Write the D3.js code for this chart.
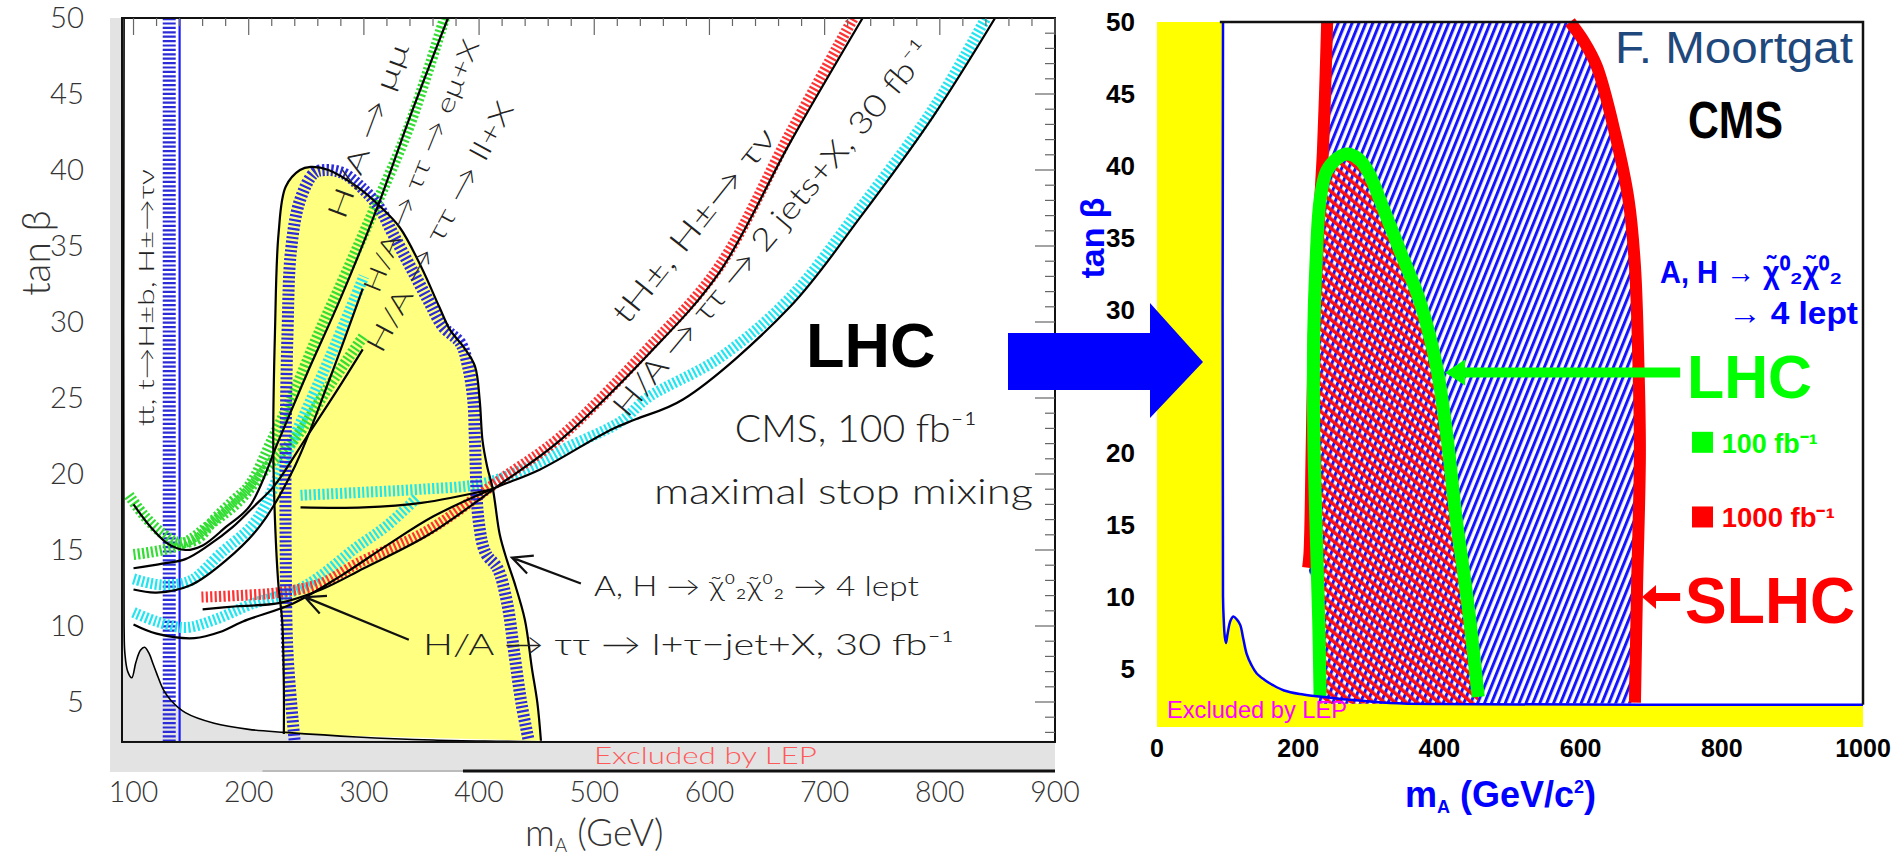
<!DOCTYPE html>
<html>
<head>
<meta charset="utf-8">
<script src="https://cdn.jsdelivr.net/npm/d3@7"></script>
<style>
  body { margin: 0; background: #fff; }
  svg { display: block; }
</style>
</head>
<body>
<svg id="chart" width="1903" height="855"></svg>
<script>
// ---------- left panel: CMS 100 fb-1, maximal stop mixing  (m_A [GeV], tan beta) ----------
const leftXTicks = [100, 200, 300, 400, 500, 600, 700, 800, 900]
const leftYTicks = [5, 10, 15, 20, 25, 30, 35, 40, 45, 50]

const lepLeft = [[91.8,50],[91.8,10],[92.5,8.2],[95,7.0],[98.5,6.6],[102,7.6],[106,8.4],[109.6,8.6],[113.5,8.2],
  [117,7.5],[120,6.9],[126,5.8],[132.6,5.1],[145,4.3],[170,3.6],[200,3.2],[232,3.0],[294,2.7],[360,2.5],
  [418,2.42],[470,2.37],[900,2.37]]

// black outline of the 4-lepton region (yellow)
const fourLepOutline = [[230.5,2.9],[230.5,6.0],[229,10.4],[225.9,12.6],[222.8,17],[221.3,22.2],[222.8,29.3],
  [225.9,35.8],[232.1,38.9],[244.5,40.0],[253.8,40.2],[269.3,40.0],[294,38.9],[312.7,37.7],[331.3,36.2],
  [349.9,33.6],[365.4,31.0],[374.7,29.5],[387.1,28.3],[396.4,27.1],[400.5,24.9],[403,22.2],[407,20.5],
  [412,19.0],[418,16.0],[424.3,14.3],[430.5,12.9],[439.8,10.4],[445.9,7.2],[450.7,4.9],[453.7,2.45]]
// hatched blue 4-lepton contour
const fourLepHatch = [[239.8,2.5],[233.7,8.2],[232.1,15],[232.1,22.2],[233.7,29.3],[236.7,34.7],[244.5,38.0],
  [256.9,39.8],[266.2,40.0],[281.7,39.8],[297.2,38.9],[312.7,37.6],[325.2,35.8],[340.6,33.6],[356.1,31.4],
  [368.6,29.7],[384,28.6],[390.3,27.1],[394.9,24.9],[396.4,22.2],[399.5,17],[405.7,14.8],[416,13.8],
  [424.4,11.5],[430.6,8.2],[436.8,4.9],[443,2.5]]

const tbHatch = [[131,50],[131,2.0]]          // t -> H+ b, H+ -> tau nu
const tbLine = [[140,50],[140,2.0]]

const mumuHatch = [[96,18.6],[110,17.2],[125,16.1],[139,15.5],[155,15.7],[170,17],[186,18.2],[201,19.3],
  [220,22.2],[240,25.5],[261,29.3],[285,33.3],[310,37.6],[340,43.0],[370,50]]
const mumuLine = [[100,18.0],[115,16.5],[130,15.4],[145,15.0],[160,15.3],[180,16.5],[201,17.9],[226,22.2],
  [250,26.5],[280,31.6],[313,37.8],[340,43.5],[373,50]]
const llHatch = [[100,14.7],[125,15.0],[145,15.5],[165,16.6],[190,18.1],[219,20.7],[241,22.4],[270,25.8],[300,29.1]]
const llLine = [[100,13.8],[125,14.1],[145,14.4],[165,15.3],[186,16.5],[205,17.9],[222,19.2],[250,22.4],[275,25.3],[299,28.2]]
const emuHatch = [[100,13.1],[115,12.8],[130,12.7],[150,13.0],[176,14.8],[207,17.0],[238,22.2],[270,27.6],[300,33]]
const emuLine = [[100,12.4],[120,12.2],[150,12.7],[180,14.3],[210,16.6],[240,20.5],[270,26.2],[299,32.2]]
const ltauHatch = [[100,10.9],[120,10.3],[145,9.9],[170,10.4],[201,11.4],[248,12.6],[294,15.2],[320,16.6],[347,18.5]]
const jjHatch = [[245,18.6],[300,18.8],[350,19.0],[405,19.4],[453,20.8],[478,21.8],[524,23.5],[546,25.0],
  [608,27.6],[670,31.6],[731,37.5],[794,44.0],[840,50]]
const jjLine = [[100,10.1],[120,9.5],[153,9.2],[175,9.6],[195,10.3],[239,11.5],[280,13.3],[320,15.3],[360,17.2],
  [411,19.0],[453,20.3],[514,22.9],[536,23.6],[577,24.9],[670,31.0],[731,36.9],[794,43.5],[848,50]]
const jjFlatLine = [[245,17.8],[300,17.8],[350,18.1],[411,19.0]]
const tHHatch = [[159,11.9],[190,12.0],[226,12.2],[263,12.8],[294,14.1],[356,16.3],[418,19.6],[470,22.4],
  [546,28.2],[608,33.6],[670,42.4],[725,50]]
const tHLine = [[160,11.1],[190,11.3],[226,11.5],[263,12.4],[300,13.8],[356,16.0],[418,19.3],[470,22.2],
  [546,27.8],[608,33.2],[670,41.8],[733,50]]

// ---------- right panel: LHC / SLHC reach for A,H -> chi2 chi2 -> 4 leptons ----------
const rightXTicks = [0, 200, 400, 600, 800, 1000]
const rightYTicks = [5, 10, 15, 20, 25, 30, 35, 40, 45, 50]

const lepRight = [[93.5,50],[93.5,10],[94.5,8.4],[96,7.2],[97.7,6.75],[100,7.4],[104,8.3],[108,8.6],[113,8.4],
  [118,8.0],[122,7.1],[127,6.0],[134,5.2],[141,4.65],[152,4.2],[165,3.8],[180,3.45],[202,3.2],[226,3.05],
  [273,2.8],[330,2.58],[400,2.5],[1000,2.45]]
const slhcLeft = [[241,50],[238,45],[235,41],[231,37.5],[226,33],[222,28],[219,20],[216,13],[214,12]]
const slhcRight = [[585,50],[604,48.7],[623,46.9],[649,42.2],[668,37.6],[677,33],[682,26],[684,20],[680,10.7],[677,2.6]]
const lhcContour = [[231,3.0],[229,8.4],[225,15.3],[222,21.4],[222,28.3],[225,33],[231,37.6],[240,39.6],
  [255,40.5],[270,40.8],[287,40.4],[300,39.5],[316,37.6],[344,34.1],[372,30.6],[396,26],[410,21.4],
  [424,15.3],[434,11.8],[443,8.4],[455,3.0]]
const regionFloor = 2.55

// ---------- scales ----------
const xL = d3.scaleLinear().domain([90, 900]).range([122, 1055])
const yL = d3.scaleLinear().domain([0, 50]).range([778, 18])
const xR = d3.scaleLinear().domain([0, 1000]).range([1157, 1863])
const yR = d3.scaleLinear().domain([0, 50]).range([740, 22])

const lineL = d3.line().x(d => xL(d[0])).y(d => yL(d[1])).curve(d3.curveCatmullRom)
const lineR = d3.line().x(d => xR(d[0])).y(d => yR(d[1])).curve(d3.curveCatmullRom)
const lineRLin = d3.line().x(d => xR(d[0])).y(d => yR(d[1]))

const svg = d3.select('#chart')
const defs = svg.append('defs')
defs.append('clipPath').attr('id', 'clipL').append('rect')
  .attr('x', xL(90)).attr('y', yL(50)).attr('width', xL(900) - xL(90)).attr('height', yL(2.37) - yL(50))

const pBlue = defs.append('pattern').attr('id', 'hatchBlue').attr('patternUnits', 'userSpaceOnUse')
  .attr('width', 6.4).attr('height', 20).attr('patternTransform', 'rotate(22)')
pBlue.append('rect').attr('width', 6.4).attr('height', 20).attr('fill', '#fff')
pBlue.append('rect').attr('width', 3).attr('height', 20).attr('fill', '#1414ff')
const pRed = defs.append('pattern').attr('id', 'hatchRed').attr('patternUnits', 'userSpaceOnUse')
  .attr('width', 7).attr('height', 20).attr('patternTransform', 'rotate(-50)')
pRed.append('rect').attr('width', 3.6).attr('height', 20).attr('fill', '#ff1010')

// ================= LEFT PANEL =================
const gL = svg.append('g').attr('font-family', 'Lato, "Open Sans", sans-serif').attr('font-weight', 300)

// grey LEP-excluded area
gL.append('path')
  .attr('d', lineL(lepLeft) + `L${xL(900)},${yL(0.39)}L${xL(79.6)},${yL(0.39)}L${xL(79.6)},${yL(50)}Z`)
  .attr('fill', '#e3e3e3')
gL.append('path').attr('d', lineL(fourLepOutline) + 'Z').attr('fill', '#ffff80')

const curves = gL.append('g').attr('clip-path', 'url(#clipL)')
function hatch(data, color, w = 11) {
  curves.append('path').attr('d', lineL(data)).attr('fill', 'none')
    .attr('stroke', color).attr('stroke-width', w).attr('stroke-dasharray', '2.2,2.2')
}
function solid(data, color = '#000', w = 2.2) {
  curves.append('path').attr('d', lineL(data)).attr('fill', 'none')
    .attr('stroke', color).attr('stroke-width', w)
}
hatch(tbHatch, '#2b2bd9', 13)
solid(tbLine, '#1a1aff', 2.2)
hatch(jjHatch, '#22e5f0')
hatch(ltauHatch, '#22e5f0')
hatch(emuHatch, '#22e5f0')
hatch(tHHatch, '#ff3333')
hatch(llHatch, '#33dd33')
hatch(mumuHatch, '#33dd33')
hatch(fourLepHatch, '#2b2bd9', 12)
solid(lepLeft, '#000', 1.6)
solid(fourLepOutline)
solid(mumuLine); solid(llLine); solid(emuLine); solid(jjLine); solid(jjFlatLine); solid(tHLine)

// frame + ticks
gL.append('rect').attr('x', xL(90)).attr('y', yL(50)).attr('width', xL(900) - xL(90))
  .attr('height', yL(2.37) - yL(50)).attr('fill', 'none').attr('stroke', '#111').attr('stroke-width', 2)
gL.append('line').attr('x1', xL(212)).attr('x2', xL(386)).attr('y1', yL(0.46)).attr('y2', yL(0.46))
  .attr('stroke', '#bbb').attr('stroke-width', 2)
gL.append('line').attr('x1', xL(386)).attr('x2', xL(900)).attr('y1', yL(0.46)).attr('y2', yL(0.46))
  .attr('stroke', '#111').attr('stroke-width', 3)
gL.selectAll('.tt').data(d3.range(100, 901, 20)).enter().append('line')
  .attr('x1', d => xL(d)).attr('x2', d => xL(d)).attr('y1', yL(50)).attr('y2', d => yL(50) + (d % 100 === 0 ? 17 : 8))
  .attr('stroke', '#666').attr('stroke-width', 1.2)
gL.selectAll('.rt').data(d3.range(3, 50)).enter().append('line')
  .attr('y1', d => yL(d)).attr('y2', d => yL(d)).attr('x1', xL(900)).attr('x2', d => xL(900) - (d % 5 === 0 ? 20 : 10))
  .attr('stroke', '#666').attr('stroke-width', 1.2)

gL.selectAll('.yl').data(leftYTicks).enter().append('text')
  .attr('x', 84).attr('y', d => yL(d)).attr('dy', '0.36em').attr('text-anchor', 'end')
  .attr('font-size', 29).attr('fill', '#333')
  .attr('textLength', d => String(d).length * 17).attr('lengthAdjust', 'spacingAndGlyphs').text(d => d)
gL.selectAll('.xl').data(leftXTicks).enter().append('text')
  .attr('x', d => xL(d)).attr('y', 802).attr('text-anchor', 'middle')
  .attr('font-size', 29).attr('fill', '#333')
  .attr('textLength', d => String(d).length * 16.5).attr('lengthAdjust', 'spacingAndGlyphs').text(d => d)
const xt = gL.append('text').attr('x', xL(500)).attr('y', 846).attr('text-anchor', 'middle')
  .attr('font-size', 37).attr('fill', '#333')
xt.append('tspan').text('m')
xt.append('tspan').attr('font-size', 19).attr('dy', 6).text('A')
xt.append('tspan').attr('dy', -6).text(' (GeV)')
gL.append('text').attr('transform', 'translate(35,253) rotate(-90)').attr('text-anchor', 'middle')
  .attr('dominant-baseline', 'central').attr('font-size', 39).attr('fill', '#333').text('tan β')

function rotLabel(txt, m, t, ang, size, len) {
  gL.append('text').attr('transform', `translate(${xL(m)},${yL(t)}) rotate(${ang})`)
    .attr('text-anchor', 'middle').attr('dominant-baseline', 'central')
    .attr('font-size', size).attr('fill', '#222')
    .attr('textLength', len).attr('lengthAdjust', 'spacingAndGlyphs').text(txt)
}
rotLabel('tt, t→H±b, H±→τν', 110.8, 31.6, -90, 22, 257)
rotLabel('H/A → μμ', 302.7, 42.6, -69.5, 27, 185)
rotLabel('H/A → ττ → eμ+X', 348.7, 40.3, -68, 25, 270)
rotLabel('H/A → ττ → ll+X', 365.2, 36.3, -61.7, 27, 280)
rotLabel('tH±, H±→ τν', 585.7, 36.4, -51.3, 31, 240)
rotLabel('H/A → ττ → 2 jets+X, 30 fb⁻¹', 653.8, 36.2, -50.1, 31, 478)

function flatLabel(txt, m, t, size, len, color = '#222') {
  gL.append('text').attr('x', xL(m)).attr('y', yL(t)).attr('font-size', size).attr('fill', color)
    .attr('textLength', len).attr('lengthAdjust', 'spacingAndGlyphs').text(txt)
}
flatLabel('CMS, 100 fb⁻¹', 622, 22.1, 37, 242)
flatLabel('maximal stop mixing', 551.8, 18.0, 36, 379)
flatLabel('A, H → χ̃⁰₂χ̃⁰₂ → 4 lept', 499.7, 12.0, 27, 325)
flatLabel('H/A → ττ → l+τ−jet+X, 30 fb⁻¹', 351.3, 8.1, 30, 531)
flatLabel('Excluded by LEP', 499.7, 0.9, 23, 223, '#ff5a5a')

function arrowL(m1, t1, m2, t2) {
  const x1 = xL(m1), y1 = yL(t1), x2 = xL(m2), y2 = yL(t2)
  const a = Math.atan2(y2 - y1, x2 - x1), h = 22
  gL.append('path')
    .attr('d', `M${x1},${y1}L${x2},${y2}M${x2 + h * Math.cos(a + Math.PI - 0.45)},${y2 + h * Math.sin(a + Math.PI - 0.45)}L${x2},${y2}L${x2 + h * Math.cos(a + Math.PI + 0.45)},${y2 + h * Math.sin(a + Math.PI + 0.45)}`)
    .attr('fill', 'none').attr('stroke', '#111').attr('stroke-width', 2.2)
}
arrowL(488.4, 12.8, 428.5, 14.5)
arrowL(339, 9.1, 248.9, 11.9)

gL.append('text').attr('x', 806).attr('y', 367).attr('font-family', '"Liberation Sans", Arial, sans-serif')
  .attr('font-weight', 'bold').attr('font-size', 63).attr('fill', '#000').text('LHC')

// ================= RIGHT PANEL =================
const gR = svg.append('g').attr('font-family', '"Liberation Sans", Arial, sans-serif')
gR.append('path')
  .attr('d', lineR(lepRight) + `L${xR(1000)},${yR(0.9)}L${xR(0)},${yR(0.9)}L${xR(0)},${yR(50)}Z`)
  .attr('fill', '#ffff00')

const slhcRegion = slhcLeft.concat([[226, 10], [229, regionFloor], [677, regionFloor]], slhcRight.slice().reverse())
gR.append('path').attr('d', lineRLin(slhcRegion) + 'Z').attr('fill', 'url(#hatchBlue)')
const lhcRegion = [[lhcContour[0][0], regionFloor]].concat(lhcContour, [[lhcContour[lhcContour.length - 1][0], regionFloor]])
gR.append('path').attr('d', lineR(lhcRegion) + 'Z').attr('fill', 'url(#hatchBlue)')
gR.append('path').attr('d', lineR(lhcRegion) + 'Z').attr('fill', 'url(#hatchRed)')

gR.append('path').attr('d', lineR(slhcLeft)).attr('fill', 'none').attr('stroke', '#ff0000').attr('stroke-width', 12)
gR.append('path').attr('d', lineR(slhcRight)).attr('fill', 'none').attr('stroke', '#ff0000').attr('stroke-width', 12)
gR.append('path').attr('d', lineR(lhcContour)).attr('fill', 'none').attr('stroke', '#00ff00').attr('stroke-width', 13)
gR.append('path').attr('d', lineR(lepRight)).attr('fill', 'none').attr('stroke', '#0000ff').attr('stroke-width', 2.5)
gR.append('path').attr('d', `M${xR(89)},${yR(50)}L${xR(1000)},${yR(50)}L${xR(1000)},${yR(2.45)}`)
  .attr('fill', 'none').attr('stroke', '#111').attr('stroke-width', 2.5)

const tickFont = '"Liberation Sans Narrow", "Arial Narrow", "Liberation Sans", sans-serif'
gR.selectAll('.yr').data(rightYTicks).enter().append('text')
  .attr('x', 1135).attr('y', d => yR(d)).attr('dy', '0.36em').attr('text-anchor', 'end')
  .attr('font-family', tickFont).attr('font-weight', 'bold').attr('font-size', 26).text(d => d)
gR.selectAll('.xr').data(rightXTicks).enter().append('text')
  .attr('x', d => xR(d)).attr('y', 757).attr('text-anchor', 'middle')
  .attr('font-family', tickFont).attr('font-weight', 'bold').attr('font-size', 25).text(d => d)
const xtR = gR.append('text').attr('x', 1405).attr('y', 807).attr('font-weight', 'bold')
  .attr('font-size', 36).attr('fill', '#0000ff')
xtR.append('tspan').text('m')
xtR.append('tspan').attr('font-size', 18).attr('dy', 6).text('A')
xtR.append('tspan').attr('dy', -6).text(' (GeV/c')
xtR.append('tspan').attr('font-size', 18).attr('dy', -14).text('2')
xtR.append('tspan').attr('dy', 14).text(')')
gR.append('text').attr('transform', 'translate(1092,238) rotate(-90)').attr('text-anchor', 'middle')
  .attr('dominant-baseline', 'central').attr('font-weight', 'bold').attr('font-size', 34)
  .attr('fill', '#0000ff').text('tan β')

gR.append('text').attr('x', xR(14.2)).attr('y', yR(1.5)).attr('font-family', tickFont)
  .attr('font-size', 24).attr('fill', '#ff00ff').attr('textLength', 180).attr('lengthAdjust', 'spacingAndGlyphs')
  .text('Excluded by LEP')
gR.append('text').attr('x', 1615).attr('y', 63).attr('font-size', 45).attr('fill', '#1f497d')
  .attr('textLength', 238).attr('lengthAdjust', 'spacingAndGlyphs').text('F. Moortgat')
gR.append('text').attr('x', xR(752)).attr('y', yR(41.9)).attr('font-family', tickFont).attr('font-weight', 'bold')
  .attr('font-size', 52).attr('textLength', 95).attr('lengthAdjust', 'spacingAndGlyphs').text('CMS')
gR.append('text').attr('x', xR(712.5)).attr('y', yR(31.8)).attr('font-family', tickFont).attr('font-weight', 'bold')
  .attr('font-size', 32).attr('fill', '#0000ff').attr('textLength', 182).attr('lengthAdjust', 'spacingAndGlyphs')
  .text('A, H → χ̃⁰₂χ̃⁰₂')
gR.append('text').attr('x', xR(808.8)).attr('y', yR(29)).attr('font-family', tickFont).attr('font-weight', 'bold')
  .attr('font-size', 32).attr('fill', '#0000ff').attr('textLength', 130).attr('lengthAdjust', 'spacingAndGlyphs')
  .text('→ 4 lept')

// legend
const legend = [{ c: '#00ff00', t: 20, label: '100 fb⁻¹', len: 96 }, { c: '#ff0000', t: 14.8, label: '1000 fb⁻¹', len: 113 }]
legend.forEach(l => {
  gR.append('rect').attr('x', xR(757.8)).attr('y', yR(l.t) - 21).attr('width', 21).attr('height', 21).attr('fill', l.c)
  gR.append('text').attr('x', xR(800)).attr('y', yR(l.t)).attr('font-family', tickFont).attr('font-weight', 'bold')
    .attr('font-size', 27).attr('fill', l.c).attr('textLength', l.len).attr('lengthAdjust', 'spacingAndGlyphs').text(l.label)
})

function arrowR(mTip, mTail, t, color, w, hl, hw) {
  const xt = xR(mTip), xe = xR(mTail), y = yR(t)
  gR.append('line').attr('x1', xt + hl - 1).attr('x2', xe).attr('y1', y).attr('y2', y).attr('stroke', color).attr('stroke-width', w)
  gR.append('path').attr('d', `M${xt},${y}L${xt + hl},${y - hw}L${xt + hl},${y + hw}Z`).attr('fill', color)
}
arrowR(408, 741, 25.6, '#00ff00', 10, 20, 13)
arrowR(687, 741, 9.96, '#ff0000', 8, 14, 12)
gR.append('text').attr('x', xR(750.7)).attr('y', yR(23.8)).attr('font-weight', 'bold').attr('font-size', 62)
  .attr('fill', '#00ff00').attr('textLength', 125).attr('lengthAdjust', 'spacingAndGlyphs').text('LHC')
gR.append('text').attr('x', xR(748)).attr('y', yR(8.15)).attr('font-weight', 'bold').attr('font-size', 64)
  .attr('fill', '#ff0000').attr('textLength', 170).attr('lengthAdjust', 'spacingAndGlyphs').text('SLHC')

// big blue arrow between the panels
svg.append('path').attr('d', 'M1008,333L1150,333L1150,303L1203,362L1150,418L1150,390L1008,390Z').attr('fill', '#0000ff')
</script>
</body>
</html>
